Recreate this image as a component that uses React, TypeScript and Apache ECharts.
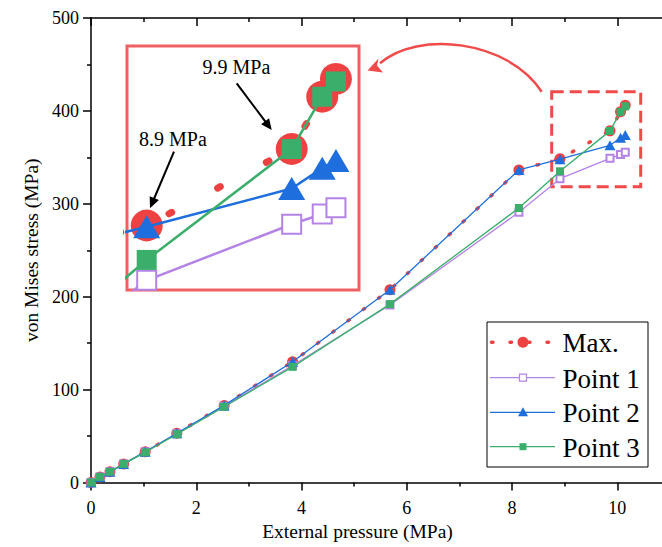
import React, { useEffect, useRef } from 'react';
import * as echarts from 'echarts';

// External pressure (MPa) at each load step
const pressure = [0, 0.17, 0.36, 0.62, 1.03, 1.63, 2.53, 3.83, 5.68, 8.13, 8.91, 9.86, 10.06, 10.15];
// von Mises stress (MPa)
const maxStress = [0, 6, 11.5, 20, 33, 53, 83, 130, 207.5, 336.5, 348.5, 378.5, 399, 406];
const point1 = [0, 6, 11.5, 20, 33, 52.5, 82, 126, 191, 291, 327, 349, 353, 355.5];
const point2 = [0, 6, 11.5, 20, 33, 53, 83, 130, 207.5, 336.5, 348, 363, 371, 374];
const point3 = [0, 6, 11.5, 20, 32.5, 52, 81.5, 124.5, 192, 295.5, 335, 378.5, 399, 405];

const seriesNames = ['Max.', 'Point 1', 'Point 2', 'Point 3'];
const xMajorTicks = [0, 2, 4, 6, 8, 10];
const xMinorTicks = [1, 3, 5, 7, 9, 11];
const xRange = [0, 11];
const yRange = [0, 500];
// magnified window shown in the inset
const zoomX = [8.781, 10.301];
const zoomY = [323.2, 418.9];

const RED = '#EE4242';
const PURPLE = '#B483E6';
const BLUE = '#1E6FDD';
const GREEN = '#3BAE6B';
const FONT = 'Liberation Serif';

const pairs = (ys: number[]) => pressure.map((x, i) => [x, ys[i]]);

type Sizes = {
  dotWidth: number; dash: number[]; dashOffset: number; lineWidth: number;
  circle: number; tri: number[]; sq: number; open: number; openBorder: number;
};

function buildSeries(s: Sizes) {
  const common = { type: 'line', clip: true, silent: true };
  return [
    {
      ...common, name: seriesNames[0], data: pairs(maxStress),
      symbol: 'circle', symbolSize: s.circle,
      itemStyle: { color: RED },
      lineStyle: { color: RED, width: s.dotWidth, type: s.dash, dashOffset: s.dashOffset, cap: 'round' },
    },
    {
      ...common, name: seriesNames[1], data: pairs(point1),
      symbol: 'emptyRect', symbolSize: s.open,
      itemStyle: { color: PURPLE, borderWidth: s.openBorder },
      lineStyle: { color: PURPLE, width: s.lineWidth },
    },
    {
      ...common, name: seriesNames[2], data: pairs(point2),
      symbol: 'triangle', symbolSize: s.tri,
      itemStyle: { color: BLUE },
      lineStyle: { color: BLUE, width: s.lineWidth },
    },
    {
      ...common, name: seriesNames[3], data: pairs(point3),
      symbol: 'rect', symbolSize: s.sq,
      itemStyle: { color: GREEN },
      lineStyle: { color: GREEN, width: s.lineWidth },
    },
  ];
}

const black = { color: '#000', width: 1.5 };

function arrow(from: number[], tip: number[], color: string, width: number, len: number, half: number) {
  const dx = tip[0] - from[0];
  const dy = tip[1] - from[1];
  const d = Math.hypot(dx, dy);
  const ux = dx / d, uy = dy / d;
  const bx = tip[0] - ux * len, by = tip[1] - uy * len;
  return [
    { type: 'line', shape: { x1: from[0], y1: from[1], x2: bx + ux * 2, y2: by + uy * 2 }, style: { stroke: color, lineWidth: width } },
    {
      type: 'polygon',
      shape: { points: [tip, [bx - uy * half, by + ux * half], [bx + uy * half, by - ux * half]] },
      style: { fill: color },
    },
  ];
}

function textEl(text: string, x: number, y: number, size: number) {
  return {
    type: 'text',
    style: { text, x, y, fontFamily: FONT, fontSize: size, fill: '#000', verticalAlign: 'middle', textVerticalAlign: 'middle' },
  };
}

function legendGraphics() {
  const rows = [342.3, 377.7, 412.3, 446.7];
  const cx = 523;
  const els: any[] = [
    { type: 'rect', shape: { x: 487, y: 322, width: 161, height: 145 }, style: { fill: '#fff', stroke: '#000', lineWidth: 1 } },
  ];
  // Max.
  els.push({ type: 'line', shape: { x1: 491.5, y1: rows[0], x2: 556, y2: rows[0] }, style: { stroke: RED, lineWidth: 3.5, lineDash: [1.5, 17], lineCap: 'round' } });
  els.push({ type: 'circle', shape: { cx, cy: rows[0], r: 5.5 }, style: { fill: RED } });
  // Point 1
  els.push({ type: 'line', shape: { x1: 490, y1: rows[1], x2: 555, y2: rows[1] }, style: { stroke: PURPLE, lineWidth: 1.3 } });
  els.push({ type: 'rect', shape: { x: cx - 3.5, y: rows[1] - 3.5, width: 7, height: 7 }, style: { fill: '#fff', stroke: PURPLE, lineWidth: 1.2 } });
  // Point 2
  els.push({ type: 'line', shape: { x1: 490, y1: rows[2], x2: 555, y2: rows[2] }, style: { stroke: BLUE, lineWidth: 1.3 } });
  els.push({ type: 'polygon', shape: { points: [[cx, rows[2] - 5], [cx + 5, rows[2] + 4], [cx - 5, rows[2] + 4]] }, style: { fill: BLUE } });
  // Point 3
  els.push({ type: 'line', shape: { x1: 490, y1: rows[3], x2: 555, y2: rows[3] }, style: { stroke: GREEN, lineWidth: 1.3 } });
  els.push({ type: 'rect', shape: { x: cx - 3.5, y: rows[3] - 3.5, width: 7, height: 7 }, style: { fill: GREEN } });
  rows.forEach((y, i) => els.push(textEl(seriesNames[i], 562.5, y + 1, 27)));
  return els;
}

function annotationGraphics() {
  const els: any[] = [
    // dashed frame around the magnified region
    {
      type: 'rect', shape: { x: 551.7, y: 91.7, width: 89, height: 95 },
      style: { fill: 'none', stroke: '#F04A4A', lineWidth: 3, lineDash: [12, 6] },
    },
    // curved pointer towards the inset
    {
      type: 'bezierCurve',
      shape: { x1: 541.7, y1: 91.7, cpx1: 508, cpy1: 40, cpx2: 418, cpy2: 30, x2: 380, y2: 63.3 },
      style: { stroke: '#F04A4A', lineWidth: 2.5, fill: 'none' },
    },
    {
      type: 'polygon',
      shape: { points: [[367.5, 70.5], [378.5, 58.5], [377, 65.5], [383, 72.5]] },
      style: { fill: '#F04A4A' },
    },
    textEl('9.9 MPa', 202.5, 67, 20),
    textEl('8.9 MPa', 139, 138.5, 20),
    ...arrow([236.7, 83.3], [271.7, 130], '#000', 2, 11, 5),
    ...arrow([174, 151.7], [150, 208.3], '#000', 2, 11, 5),
  ];
  return els;
}

export default function App() {
  const ref = useRef<HTMLDivElement>(null);

  useEffect(() => {
    if (!ref.current) return;
    const chart = echarts.init(ref.current, null, { renderer: 'svg' });
    const labelStyle = { fontFamily: FONT, fontSize: 18, color: '#000' };

    const option: any = {
      animation: false,
      backgroundColor: '#fff',
      textStyle: { fontFamily: FONT },
      grid: [
        { left: 91, top: 18, right: 10, bottom: 64.5 },
        { left: 127, top: 46, width: 232, height: 244, show: true, borderColor: '#F06060', borderWidth: 3, backgroundColor: 'transparent' },
      ],
      xAxis: [
        {
          gridIndex: 0, type: 'value', position: 'bottom', min: xRange[0], max: xRange[1],
          name: 'External pressure (MPa)', nameLocation: 'middle', nameGap: 38,
          nameTextStyle: { fontFamily: FONT, fontSize: 19.5, color: '#000', padding: [0, 46, 0, 0] },
          axisLine: { show: true, onZero: false, lineStyle: black },
          axisTick: { show: true, length: 8, customValues: xMajorTicks, lineStyle: black },
          axisLabel: { ...labelStyle, margin: 16, customValues: xMajorTicks },
          splitLine: { show: false },
        },
        {
          gridIndex: 0, type: 'value', position: 'bottom', min: xRange[0], max: xRange[1],
          axisLine: { show: false, onZero: false },
          axisTick: { show: true, length: 4, customValues: xMinorTicks, lineStyle: black },
          axisLabel: { show: false },
          splitLine: { show: false },
        },
        {
          gridIndex: 0, type: 'value', position: 'top', min: xRange[0], max: xRange[1],
          axisLine: { show: true, onZero: false, lineStyle: black },
          axisTick: { show: true, inside: true, length: 8, customValues: xMajorTicks, lineStyle: black },
          axisLabel: { show: false },
          splitLine: { show: false },
        },
        {
          gridIndex: 0, type: 'value', position: 'top', min: xRange[0], max: xRange[1],
          axisLine: { show: false, onZero: false },
          axisTick: { show: true, inside: true, length: 4, customValues: xMinorTicks, lineStyle: black },
          axisLabel: { show: false },
          splitLine: { show: false },
        },
        { gridIndex: 1, type: 'value', min: zoomX[0], max: zoomX[1], show: false },
      ],
      yAxis: [
        {
          gridIndex: 0, type: 'value', position: 'left', min: yRange[0], max: yRange[1], interval: 100,
          name: 'von Mises stress (MPa)', nameLocation: 'middle', nameGap: 50,
          nameTextStyle: { fontFamily: FONT, fontSize: 19.5, color: '#000' },
          axisLine: { show: true, onZero: false, lineStyle: black },
          axisTick: { show: true, length: 8, lineStyle: black },
          minorTick: { show: true, splitNumber: 2, length: 4, lineStyle: black },
          axisLabel: { ...labelStyle, margin: 12 },
          splitLine: { show: false },
        },
        {
          gridIndex: 0, type: 'value', position: 'right', min: yRange[0], max: yRange[1], interval: 100,
          axisLine: { show: true, onZero: false, lineStyle: black },
          axisTick: { show: true, inside: true, length: 8, lineStyle: black },
          minorTick: { show: true, splitNumber: 2, length: 4, lineStyle: black },
          axisLabel: { show: false },
          splitLine: { show: false },
        },
        { gridIndex: 1, type: 'value', min: zoomY[0], max: zoomY[1], show: false },
      ],
      series: [
        ...buildSeries({ dotWidth: 3.5, dash: [1.5, 17.5], dashOffset: 0, lineWidth: 1.3, circle: 11, tri: [11, 10], sq: 8, open: 7, openBorder: 1.2 })
          .map((s, i) => ({ ...s, xAxisIndex: 0, yAxisIndex: 0, z: 2 + i * 0.01 })),
        ...buildSeries({ dotWidth: 7, dash: [3, 52], dashOffset: 42, lineWidth: 2.5, circle: 32, tri: [27, 23], sq: 20, open: 19, openBorder: 2.5 })
          .map((s, i) => ({ ...s, xAxisIndex: 4, yAxisIndex: 2, z: 3 + i * 0.01 })),
      ],
      graphic: [...annotationGraphics(), ...legendGraphics()],
    };

    chart.setOption(option);
    return () => chart.dispose();
  }, []);

  return (
    <div style={{ position: 'fixed', left: 0, top: 0, width: 662, height: 547, overflow: 'hidden', background: '#fff' }}>
      <div ref={ref} style={{ width: 680, height: 547 }} />
    </div>
  );
}
